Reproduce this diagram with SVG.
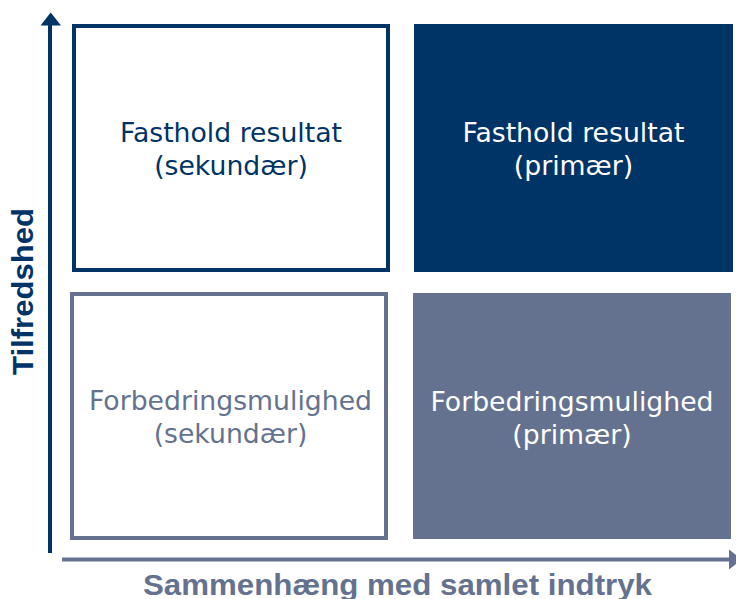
<svg xmlns="http://www.w3.org/2000/svg" width="736" height="599" viewBox="0 0 736 599">
<style>
.lbl{font-family:"DejaVu Sans",Verdana,sans-serif;font-size:26.7px;text-anchor:middle}
.axis{font-family:"Liberation Sans",Arial,sans-serif;font-weight:bold;font-size:30px;text-anchor:middle}
.navy{fill:#003366}
.grey{fill:#64728f}
.white{fill:#ffffff}
</style>
<rect width="736" height="599" fill="#ffffff"/>
<g id="connectors">
<line x1="50" y1="24" x2="50" y2="553" stroke="#003366" stroke-width="4"/>
<polygon points="40.5,25.5 61,25.5 50.7,12.5" fill="#003366"/>
<line x1="62" y1="559.5" x2="731" y2="559.5" stroke="#64728f" stroke-width="4"/>
<polygon points="729,549.5 729,569.5 742,559.5" fill="#64728f"/>
</g>
<g id="node-tl">
<rect x="74" y="26" width="314" height="244" fill="#ffffff" stroke="#003366" stroke-width="4"/>
<text class="lbl navy" x="231" y="142">Fasthold resultat</text>
<text class="lbl navy" x="231" y="175">(sekundær)</text>
</g>
<g id="node-tr">
<rect x="414" y="24" width="319" height="248" fill="#003366"/>
<text class="lbl white" x="573.5" y="142">Fasthold resultat</text>
<text class="lbl white" x="573.5" y="175">(primær)</text>
</g>
<g id="node-bl">
<rect x="72" y="294" width="314" height="244" fill="#ffffff" stroke="#64728f" stroke-width="4"/>
<text class="lbl grey" x="230.5" y="410">Forbedringsmulighed</text>
<text class="lbl grey" x="230.5" y="443">(sekundær)</text>
</g>
<g id="node-br">
<rect x="413" y="293" width="318" height="246" fill="#64728f"/>
<text class="lbl white" x="572" y="411">Forbedringsmulighed</text>
<text class="lbl white" x="572" y="444">(primær)</text>
</g>
<g id="axis-labels">
<text class="axis navy" transform="translate(33,291.5) rotate(-90)" textLength="167" lengthAdjust="spacingAndGlyphs">Tilfredshed</text>
<text class="axis grey" x="397.5" y="595" textLength="509" lengthAdjust="spacingAndGlyphs">Sammenhæng med samlet indtryk</text>
</g>
</svg>
